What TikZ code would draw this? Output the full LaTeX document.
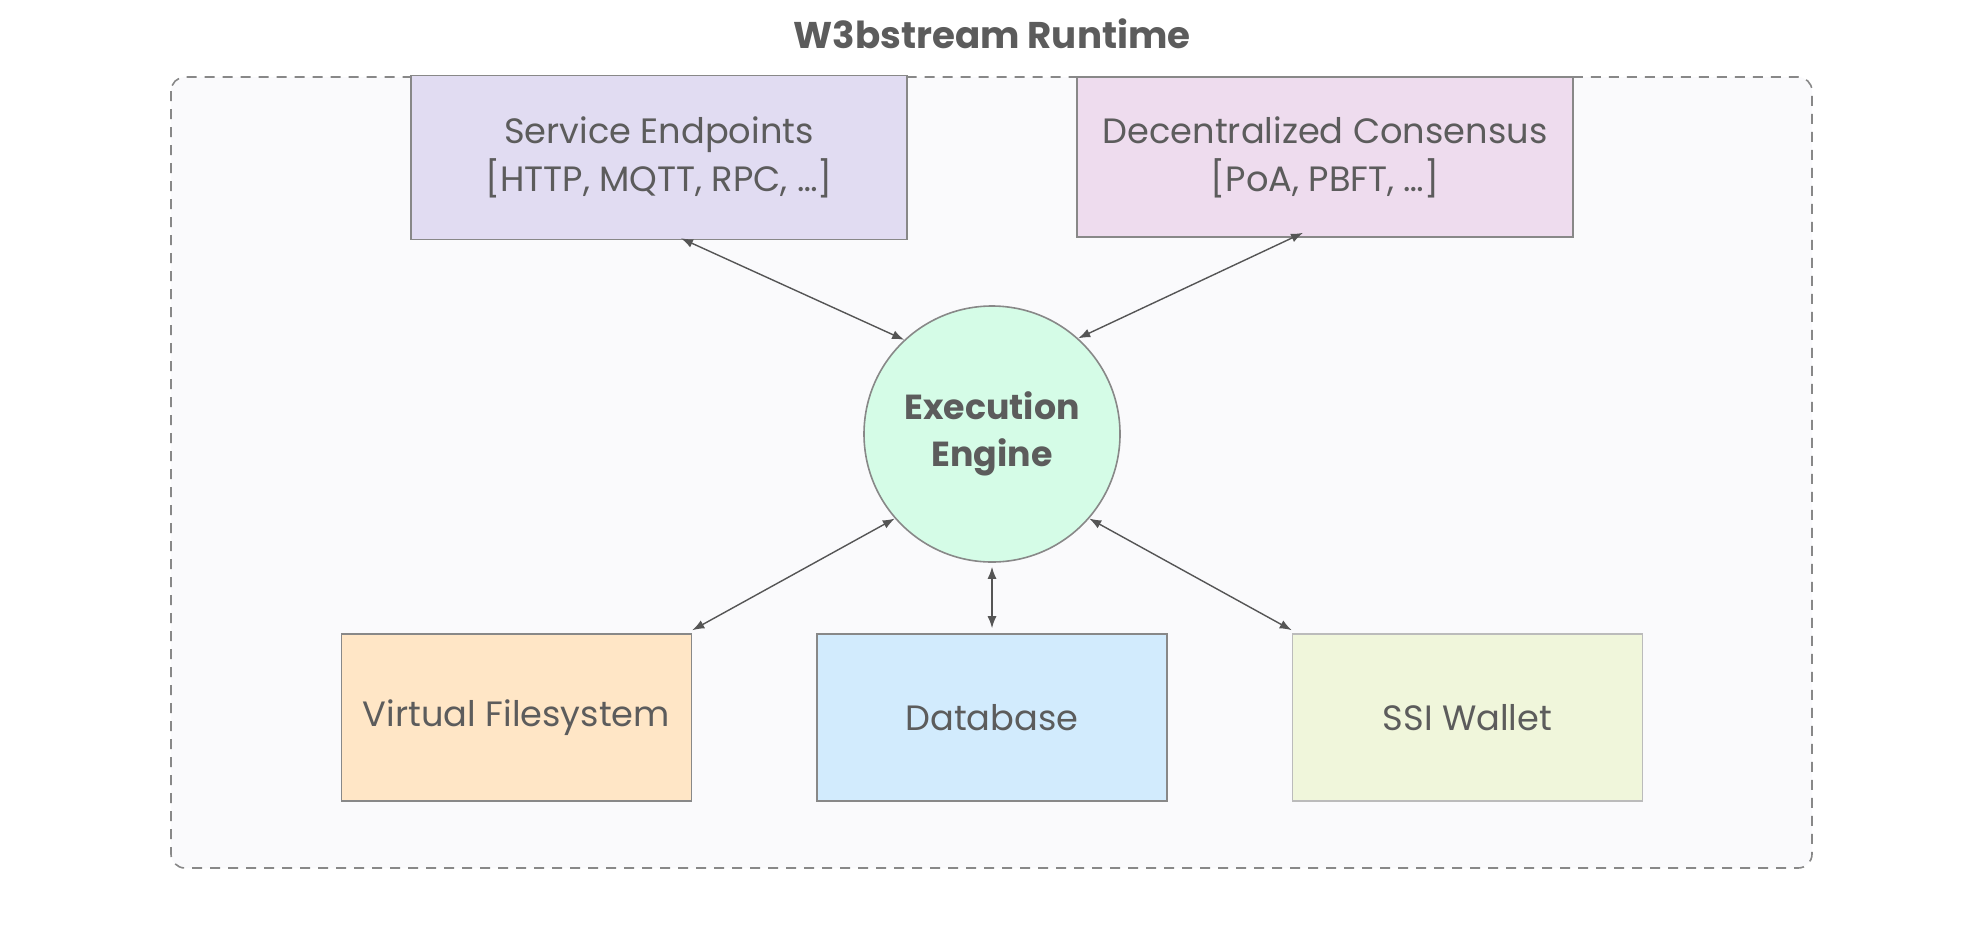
\documentclass[tikz,border=0pt]{standalone}
\usepackage{fontspec}
\setmainfont{Poppins}
\usetikzlibrary{arrows.meta}

\definecolor{txtgray}{HTML}{5C5C5C}
\definecolor{edgegray}{HTML}{888888}
\definecolor{linkgray}{HTML}{555555}
\definecolor{enginefill}{HTML}{D5FCE7}

\begin{document}
\begin{tikzpicture}[x=0.5pt,y=-0.5pt,
    label/.style={text=txtgray,font={\fontsize{17.6}{24}\selectfont},align=center},
    unit/.style={label,draw=edgegray,line width=0.8pt,inner sep=0pt,
        minimum width=175pt,minimum height=83.5pt},
    topunit/.style={unit,minimum width=248pt,minimum height=82pt},
    engine/.style={label,circle,draw=edgegray,line width=0.8pt,fill=enginefill,
        minimum size=128pt,inner sep=0pt,font={\fontsize{17.4}{23.5}\selectfont\bfseries}},
    link/.style={draw=linkgray,line width=0.7pt,
        {Latex[length=6pt,width=4.5pt]}-{Latex[length=6pt,width=4.5pt]}}]
\useasboundingbox (0,0) rectangle (1984,944);

% runtime frame and title
\draw[edgegray,line width=0.8pt,dash pattern=on 5pt off 4pt,fill={rgb,255:red,250;green,250;blue,252},
    rounded corners=7pt] (171,77) rectangle (1812,868);
\node[text=txtgray,font={\fontsize{18.6}{22}\selectfont\bfseries}] (title) at (992,34) {W3bstream Runtime};

% components
\node[topunit,fill={rgb,255:red,225;green,220;blue,242}] (svc) at (659,157.5)
    {Service Endpoints\\{}[HTTP, MQTT, RPC, \dots]};
\node[topunit,fill={rgb,255:red,238;green,220;blue,238},minimum height=80pt] (cons) at (1325,157)
    {Decentralized Consensus\\{}[PoA, PBFT, \dots]};
\node[engine] (ee) at (992,434) {Execution\\Engine};
\node[unit,fill={rgb,255:red,255;green,230;blue,198}] (vfs) at (516.5,717.5) {Virtual Filesystem};
\node[unit,fill={rgb,255:red,210;green,235;blue,253}] (db) at (992,717.5) {Database};
\node[unit,draw={rgb,255:red,187;green,187;blue,187},fill={rgb,255:red,240;green,246;blue,219}]
    (ssi) at (1467.5,717.5) {SSI Wallet};

% links
\draw[link] ([xshift=11pt,yshift=1pt]svc.south) -- (ee.133);
\draw[link] ([xshift=-11pt,yshift=2.5pt]cons.south) -- (ee.48);
\draw[link] (ee.221) -- ([yshift=1.5pt]vfs.north east);
\draw[link] ([yshift=-2pt]ee.south) -- ([yshift=2.5pt]db.north);
\draw[link] (ee.-41) -- ([yshift=1.5pt]ssi.north west);

\end{tikzpicture}
\end{document}
